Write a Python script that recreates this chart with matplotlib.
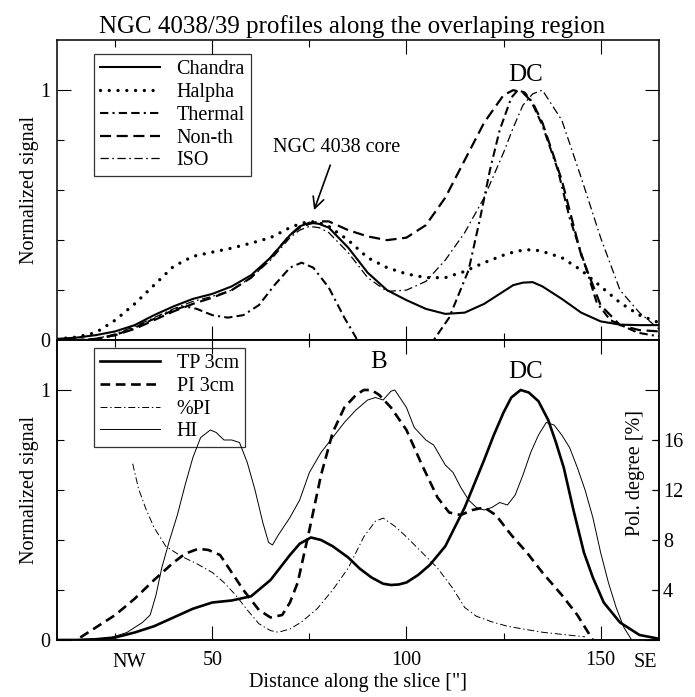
import numpy as np
import matplotlib
matplotlib.use("Agg")
import matplotlib.pyplot as plt

plt.rcParams['font.family'] = ['Liberation Serif', 'DejaVu Serif']
plt.rcParams['lines.scale_dashes'] = False

# ---- top panel data (distance ["], normalized signal) ----
x_top = [10, 15, 20, 25, 30, 35, 40, 45, 50, 55, 60, 65, 70, 72.5, 75, 77.5, 80, 85, 90, 95,
         100, 105, 110, 115, 120, 125, 127.5, 130, 132.5, 135, 140, 145, 150, 155, 160, 165]
chandra = [0.005, 0.01, 0.02, 0.035, 0.06, 0.10, 0.135, 0.165, 0.185, 0.215, 0.26, 0.33,
           0.42, 0.455, 0.47, 0.465, 0.45, 0.37, 0.27, 0.20, 0.16, 0.125, 0.105, 0.11,
           0.145, 0.195, 0.22, 0.23, 0.232, 0.215, 0.165, 0.11, 0.075, 0.062, 0.06, 0.06]
halpha = [0.005, 0.012, 0.03, 0.08, 0.145, 0.22, 0.295, 0.335, 0.352, 0.368, 0.388, 0.41,
          0.45, 0.465, 0.475, 0.47, 0.455, 0.40, 0.33, 0.29, 0.265, 0.25, 0.25, 0.275,
          0.31, 0.34, 0.352, 0.36, 0.362, 0.355, 0.33, 0.28, 0.215, 0.15, 0.10, 0.07]
nonth = [0.0, 0.0, 0.005, 0.02, 0.045, 0.08, 0.115, 0.145, 0.17, 0.20, 0.25, 0.33,
         0.42, 0.45, 0.465, 0.475, 0.475, 0.44, 0.415, 0.40, 0.41, 0.46, 0.57, 0.72,
         0.87, 0.98, 1.0, 0.99, 0.95, 0.87, 0.64, 0.34, 0.14, 0.06, 0.04, 0.035]
iso = [0.0, 0.0, 0.005, 0.025, 0.055, 0.09, 0.125, 0.155, 0.175, 0.20, 0.25, 0.32,
       0.41, 0.44, 0.455, 0.45, 0.43, 0.35, 0.25, 0.195, 0.20, 0.235, 0.32, 0.43,
       0.57, 0.75, 0.85, 0.94, 0.985, 1.0, 0.88, 0.65, 0.41, 0.20, 0.11, 0.045]

x_thermal = [10, 15, 20, 25, 30, 35, 40, 43, 46, 50, 54, 58, 62, 66, 70, 73, 76, 80,
             84, 87, 88.5, 97, 105.5, 107, 111, 116, 119, 121.5, 124, 127, 128.7,
             130.5, 132, 135, 139, 142, 146, 149, 152.5, 159.5, 165]
thermal = [0.0, 0.0, 0.005, 0.02, 0.05, 0.085, 0.12, 0.135, 0.125, 0.10, 0.09, 0.10,
           0.14, 0.22, 0.29, 0.31, 0.29, 0.21, 0.09, 0.01, -0.04, np.nan, -0.04, 0.0,
           0.09, 0.28, 0.49, 0.68, 0.84, 0.97, 1.0, 0.99, 0.96, 0.86, 0.68, 0.49, 0.30,
           0.15, 0.08, 0.03, 0.015]

# ---- bottom panel data ----
x_tp = [10, 15, 20, 25, 30, 35, 40, 45, 50, 55, 60, 65, 70, 72.5, 75.4, 78, 81, 85, 88,
        91, 94, 96, 98, 100, 103, 106, 110, 115, 120, 122.5, 125, 127, 129.4, 131.5,
        134, 136.5, 138.5, 140.5, 143, 145.7, 148, 150.8, 155, 160, 165]
tp3 = [0.0, 0.0, 0.003, 0.01, 0.03, 0.055, 0.09, 0.125, 0.15, 0.158, 0.175, 0.24,
       0.34, 0.385, 0.41, 0.40, 0.375, 0.33, 0.285, 0.25, 0.225, 0.22, 0.222, 0.23,
       0.26, 0.30, 0.375, 0.53, 0.72, 0.82, 0.91, 0.97, 1.0, 0.99, 0.955, 0.88, 0.79,
       0.69, 0.52, 0.35, 0.25, 0.15, 0.07, 0.02, 0.005]

x_pi = [16, 20, 25, 30, 35, 40, 43, 46.4, 49, 52, 55, 58, 62, 65, 68, 70, 72, 75, 78, 81,
        84, 87, 89, 91, 93, 96, 100, 104, 108, 111, 114, 117, 120, 123, 127, 131, 135,
        140, 144, 148]
pi3 = [0.01, 0.05, 0.10, 0.165, 0.24, 0.31, 0.345, 0.365, 0.36, 0.34, 0.27, 0.20, 0.12,
       0.09, 0.10, 0.15, 0.23, 0.44, 0.66, 0.83, 0.93, 0.98, 1.0, 1.0, 0.98, 0.93, 0.84,
       0.70, 0.57, 0.51, 0.50, 0.52, 0.53, 0.50, 0.42, 0.35, 0.27, 0.18, 0.10, 0.0]

x_pol = [29.5, 31, 33, 35, 38, 42, 46, 50, 53, 56, 59, 62, 65, 67, 70, 73, 77, 81,
         85, 89, 92, 94, 97, 100, 104, 108, 112, 115, 118, 122, 126, 130, 135, 140, 146]
pol = [14.1, 12.1, 10.4, 9.0, 7.5, 6.7, 6.1, 5.4, 4.6, 3.6, 2.4, 1.3, 0.75, 0.62, 0.88,
       1.45, 2.5, 4.0, 5.75, 8.25, 9.5, 9.75, 9.1, 8.25, 7.0, 5.75, 4.1, 2.6, 1.9, 1.45,
       1.1, 0.88, 0.62, 0.45, 0.25]

x_hi = [10, 20, 24, 28, 32, 34, 35.5, 37, 39, 41, 43, 45, 47, 49.5, 51, 53, 55, 57,
        59, 61, 63, 64.5, 65.5, 67, 70, 72.5, 75, 78, 81, 84, 87, 90, 92, 94, 96, 97,
        100, 102, 105, 107, 108.5, 110, 112, 114, 116, 118, 120, 122, 124, 126, 128,
        130, 132, 134, 136, 138, 140, 142, 144, 146, 148, 150, 152, 154, 156, 158]
hi = [0.0, 0.003, 0.01, 0.03, 0.07, 0.10, 0.18, 0.29, 0.40, 0.50, 0.62, 0.73, 0.81,
      0.84, 0.83, 0.80, 0.80, 0.79, 0.71, 0.60, 0.47, 0.39, 0.38, 0.42, 0.49, 0.56,
      0.67, 0.75, 0.81, 0.87, 0.92, 0.96, 0.97, 0.96, 0.995, 1.0, 0.93, 0.85, 0.80,
      0.78, 0.74, 0.70, 0.67, 0.61, 0.56, 0.53, 0.52, 0.53, 0.55, 0.54, 0.58, 0.66,
      0.75, 0.82, 0.87, 0.86, 0.82, 0.77, 0.69, 0.60, 0.49, 0.35, 0.23, 0.13, 0.05, 0.0]

fs = 14.5

fig = plt.figure(figsize=(6.95, 6.97), dpi=100)
ax1 = fig.add_axes([0.082, 0.512, 0.866, 0.4304])
ax2 = fig.add_axes([0.082, 0.0818, 0.866, 0.4304])

# top panel
ax1.plot(x_top, chandra, color='black', lw=1.5, label='Chandra')
ax1.plot(x_top, halpha, color='black', lw=2.4, linestyle=(0, (0.01, 6.3)),
         dash_capstyle='round', label='Halpha')
ax1.plot(x_thermal, thermal, color='black', lw=1.5,
         linestyle=(0, (6, 3, 1.5, 3, 6, 3)), label='Thermal')
ax1.plot(x_top, nonth, color='black', lw=1.6, linestyle=(0, (8, 4)), label='Non-th')
ax1.plot(x_top, iso, color='black', lw=0.9, linestyle=(0, (6, 2.5, 1.2, 2.5)), label='ISO')

ax1.annotate('NGC 4038 core', xy=(76.2, 0.52), xytext=(82, 0.77),
             ha='center', va='center', fontsize=fs,
             arrowprops=dict(arrowstyle='->', color='black', lw=1.2,
                             mutation_scale=20, shrinkA=4, shrinkB=0))
ax1.text(130.7, 1.06, 'DC', ha='center', va='center', fontsize=18)

# bottom panel
ax2.plot(x_tp, tp3, color='black', lw=1.9, label='TP 3cm')
ax2.plot(x_pi, pi3, color='black', lw=1.9, linestyle=(0, (7, 4)), label='PI 3cm')
ax2.plot([], [], color='black', lw=0.7, linestyle=(0, (5, 2, 1, 2)), label='%PI')
ax2.plot(x_hi, hi, color='black', lw=0.7, label='HI')
ax2.text(92.7, 1.11, 'B', ha='center', va='center', fontsize=18)
ax2.text(130.7, 1.07, 'DC', ha='center', va='center', fontsize=18)

ax2r = ax2.twinx()
ax2r.plot(x_pol, pol, color='black', lw=0.7, linestyle=(0, (5, 2, 1, 2)))
ax2r.set_ylim(0, 24)
ax2r.set_yticks([4, 8, 12, 16])
ax2r.tick_params(axis='y', direction='in', length=5, width=0.8, labelsize=fs, pad=3)
ax2r.text(0.962, 0.557, 'Pol. degree [%]', transform=ax2r.transAxes, rotation=90,
          ha='center', va='center', fontsize=fs)

for ax in (ax1, ax2):
    ax.set_xlim(10, 165)
    ax.set_ylim(0, 1.2)
    ax.set_xticks([50, 100, 150])
    ax.set_xticks([25, 75, 125], minor=True)
    ax.set_yticks([0, 1])
    ax.set_yticks([0.2, 0.4, 0.6, 0.8], minor=True)
    ax.tick_params(which='major', direction='in', length=10, width=0.8,
                   top=True, right=True, labelsize=fs, pad=5)
    ax.tick_params(which='minor', direction='in', length=5, width=0.8,
                   top=True, right=True)
    ax.set_ylabel('Normalized signal', fontsize=fs, labelpad=1)
    for sp in ax.spines.values():
        sp.set_linewidth(1.1)
    leg = ax.legend(loc='upper left', fontsize=fs, frameon=True, fancybox=False,
                    edgecolor='black', facecolor='none', handlelength=3.0,
                    labelspacing=0.18, borderpad=0.3, handletextpad=0.8,
                    borderaxespad=0)
    leg.get_frame().set_linewidth(0.9)

ax1.get_legend().set_bbox_to_anchor((0.0615, 0.953))
ax2.get_legend().set_bbox_to_anchor((0.0615, 0.973))
ax1.tick_params(axis='x', labelbottom=False)
ax2.tick_params(axis='x', which='major', pad=8)
for sp in ax2r.spines.values():
    sp.set_linewidth(1.1)

xt = ax2.get_xaxis_transform()
ax2.text(28.5, -0.042, 'NW', transform=xt, ha='center', va='top', fontsize=fs)
ax2.text(161.5, -0.042, 'SE', transform=xt, ha='center', va='top', fontsize=fs)
ax2.set_xlabel('Distance along the slice ["]', fontsize=fs, labelpad=2)

fig.text(0.506, 0.953, 'NGC 4038/39 profiles along the overlaping region',
         ha='center', va='baseline', fontsize=18)

fig.savefig('out.png', dpi=100)
